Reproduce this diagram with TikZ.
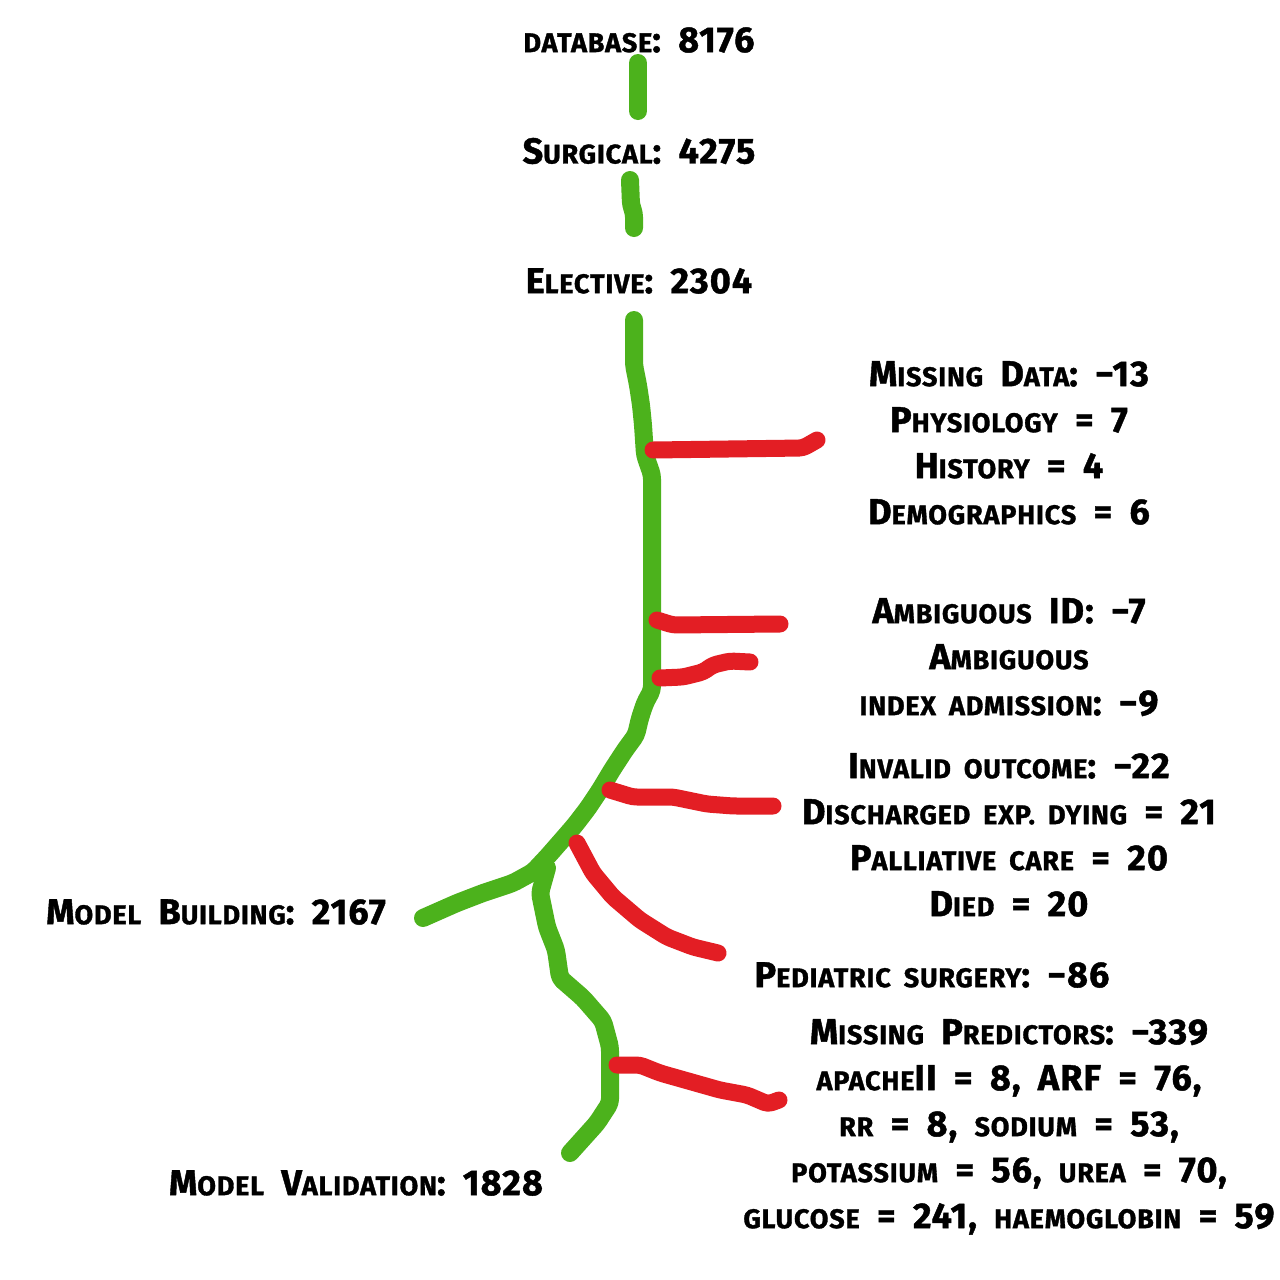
\documentclass[tikz,border=0pt]{standalone}
\usepackage{fontspec}
\setmainfont{Fira Sans}[LetterSpace=3, WordSpace=1.8, BoldFeatures={FakeBold=1.2}]
\usetikzlibrary{calc}
\definecolor{tgreen}{HTML}{4CB21C}
\definecolor{tred}{HTML}{E31E24}
\newcommand\sct[1]{{\fontsize{27}{46}\selectfont\MakeUppercase{#1}}}
\tikzset{
  lbl/.style={font=\bfseries\fontsize{36}{46}\selectfont, align=center, inner sep=0pt, text=black},
  gline/.style={draw=tgreen, line width=18pt, line cap=round, line join=round, rounded corners=4pt},
  rline/.style={draw=tred, line width=17pt, line cap=round, line join=round, rounded corners=4pt}
}
\begin{document}
\begin{tikzpicture}[x=1pt,y=-1pt]
\useasboundingbox[fill=white] (0,0) rectangle (1280,1280);
% labels
\node[lbl] (db) at (639,40) {\sct{database}: 8176};
\node[lbl] (surg) at (639,151) {S\sct{urgical}: 4275};
\node[lbl] (elec) at (639,281) {E\sct{lective}: 2304};
\node[lbl, anchor=north] (miss) at (1009,361) {M\sct{issing} D\sct{ata}: −13\\ P\sct{hysiology} = 7\\ H\sct{istory} = 4\\ D\sct{emographics} = 6};
\node[lbl, anchor=north] (amb) at (1009,598) {A\sct{mbiguous} ID: −7\\ A\sct{mbiguous}\\ \sct{index admission}: −9};
\node[lbl, anchor=north] (inv) at (1009,753) {I\sct{nvalid outcome}: −22\\ D\sct{ischarged exp. dying} = 21\\ P\sct{alliative care} = 20\\ D\sct{ied} = 20};
\node[lbl] (ped) at (932,975) {P\sct{ediatric surgery}: −86};
\node[lbl, anchor=north] (mp) at (1009,1019) {M\sct{issing} P\sct{redictors}: −339\\ \sct{apache}II = 8, ARF = 76,\\ \sct{rr} = 8, \sct{sodium} = 53,\\ \sct{potassium} = 56, \sct{urea} = 70,\\ \sct{glucose} = 241, \sct{haemoglobin} = 59};
\node[lbl] (mb) at (216,912) {M\sct{odel} B\sct{uilding}: 2167};
\node[lbl] (mv) at (356,1183) {M\sct{odel} V\sct{alidation}: 1828};
% green tree
\draw[gline] (638,63) -- (638,111);
\draw[gline] (630,180) -- (631,205) -- (634,213) -- (634,228);
\coordinate (jn) at (533,872);
\draw[gline] (634,320) -- (634,365) -- (638,385) -- (641,405) -- (643,425) -- (645,455) -- (652,475) -- (652,690) -- (645,703) -- (640,718) -- (636,735) -- (625,750) -- (612,770) -- (600,790) -- (588,808) -- (575,825) -- (562,840) -- (548,856) -- (jn)
  -- (513,883) -- (483,893) -- (457,903) -- (423,918);
\draw[gline] (547,868) -- (540,893) -- (547,927) -- (556,950) -- (560,978) -- (583,998) -- (603,1021) -- (610,1047) -- (610,1103) -- (597,1123) -- (570,1153);
% red branches
\draw[rline] (653,450) -- (803,448) -- (817,440);
\draw[rline] (657,620) -- (673,625) -- (780,624);
\draw[rline] (660,678) -- (683,677) -- (703,672) -- (713,665) -- (730,661) -- (750,662);
\draw[rline] (610,790) -- (633,797) -- (673,797) -- (707,804) -- (733,806) -- (773,806);
\draw[rline] (577,843) -- (593,873) -- (613,897) -- (640,920) -- (667,937) -- (693,947) -- (718,953);
\draw[rline] (617,1065) -- (640,1065) -- (660,1073) -- (720,1090) -- (747,1095) -- (768,1104) -- (779,1100);
\end{tikzpicture}
\end{document}
